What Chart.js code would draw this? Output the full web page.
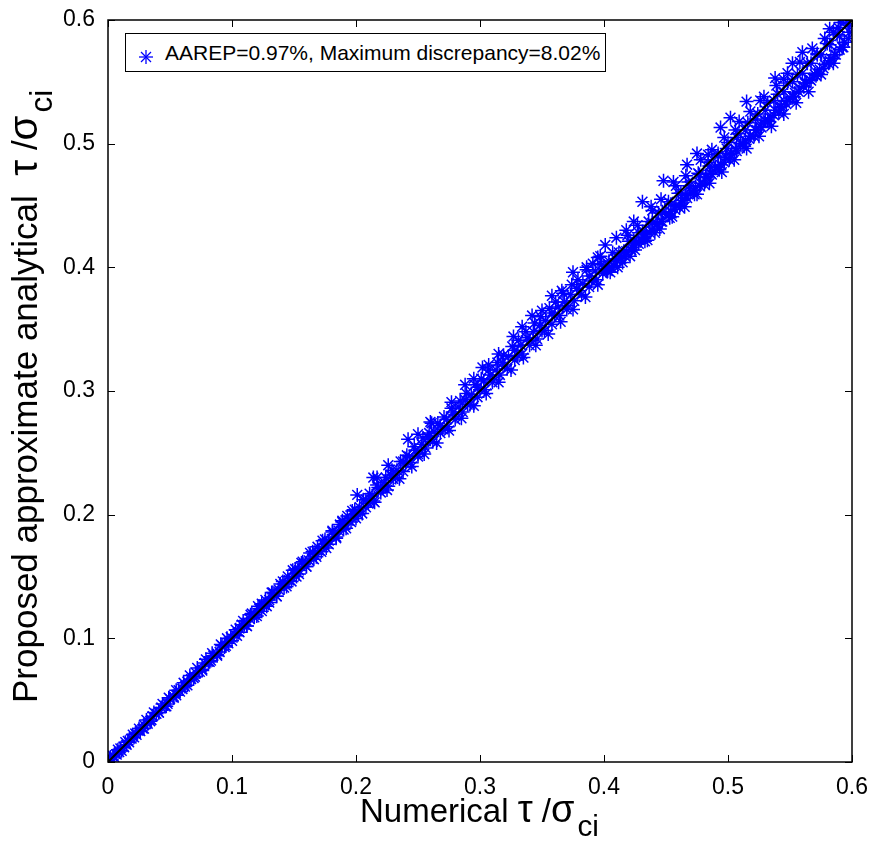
<!DOCTYPE html>
<html lang="en">
<head>
  <meta charset="UTF-8" />
  <title>Numerical vs proposed approximate analytical</title>
  <style>
    body { margin: 0; background: #fff; }
    #wrap {
      position: relative;
      width: 875px;
      height: 851px;
      font-family: "Liberation Sans", Arial, sans-serif;
      color: #000;
    }
    #grafico { position: absolute; left: 0; top: 0; }
    .titulo {
      position: absolute;
      font-size: 33px;
      line-height: 33px;
      white-space: nowrap;
    }
    .titulo .gr { font-size: 1.15em; line-height: 0; }
    .titulo sub {
      font-size: 0.9em;
      vertical-align: -0.48em;
      line-height: 0;
      margin-left: 3px;
    }
    #tituloX { left: 360px; top: 794px; }
    #tituloY {
      left: 7px;
      top: 703px;
      font-size: 35px;
      line-height: 35px;
      transform-origin: 0 0;
      transform: rotate(-90deg);
    }
    #legenda {
      position: absolute;
      left: 125px;
      top: 33px;
      width: 479px;
      height: 37px;
      border: 1px solid #000;
      background: #fff;
    }
    #legenda svg { position: absolute; left: 12px; top: 15px; }
    #legenda span {
      position: absolute;
      left: 39px;
      top: 8px;
      font-size: 21px;
      line-height: 21px;
      white-space: nowrap;
    }
  </style>
</head>
<body>
  <div id="wrap">
    <canvas id="grafico" width="875" height="851"></canvas>
    <div id="legenda">
      <svg width="16" height="16" viewBox="-8 -8 16 16">
        <g stroke="#0000ff" stroke-width="1.3">
          <line x1="-7" y1="0" x2="7" y2="0" />
          <line x1="0" y1="-7" x2="0" y2="7" />
          <line x1="-5" y1="-5" x2="5" y2="5" />
          <line x1="-5" y1="5" x2="5" y2="-5" />
        </g>
      </svg>
      <span>AAREP=0.97%, Maximum discrepancy=8.02%</span>
    </div>
    <div class="titulo" id="tituloX">Numerical <span class="gr">τ</span> /<span class="gr">σ</span><sub>ci</sub></div>
    <div class="titulo" id="tituloY">Proposed approximate analytical&nbsp; <span class="gr">τ</span> /<span class="gr">σ</span><sub>ci</sub></div>
  </div>

  <script src="https://cdn.jsdelivr.net/npm/chart.js"></script>
  <script>
    // eixos
    const xTickLabels = ['0', '0.1', '0.2', '0.3', '0.4', '0.5', '0.6'];
    const yTickLabels = ['0', '0.1', '0.2', '0.3', '0.4', '0.5', '0.6'];

    // linha de igualdade y = x
    const lineX = [0, 0.6];
    const lineY = [0, 0.6];

    // faixa densa perto da origem
    const lowX = [0.001, 0.004, 0.007, 0.010, 0.013, 0.016, 0.019, 0.022, 0.026, 0.029, 0.032, 0.036, 0.039, 0.043, 0.046,
      0.050, 0.053, 0.057, 0.060, 0.064, 0.067, 0.071, 0.074, 0.078, 0.081, 0.085, 0.088, 0.092, 0.095, 0.099,
      0.003, 0.009, 0.015, 0.021, 0.028, 0.034, 0.041, 0.048, 0.055, 0.062, 0.069, 0.076, 0.083, 0.090, 0.097];
    const lowY = [0.002, 0.005, 0.006, 0.011, 0.012, 0.017, 0.019, 0.023, 0.025, 0.030, 0.031, 0.037, 0.039, 0.044, 0.045,
      0.051, 0.053, 0.058, 0.059, 0.065, 0.067, 0.072, 0.073, 0.080, 0.081, 0.086, 0.087, 0.094, 0.094, 0.101,
      0.002, 0.008, 0.014, 0.020, 0.027, 0.033, 0.040, 0.047, 0.054, 0.061, 0.068, 0.075, 0.082, 0.089, 0.096];

    // faixa 0.1 - 0.2
    const midX = [0.102, 0.106, 0.110, 0.114, 0.118, 0.122, 0.126, 0.130, 0.134, 0.138, 0.142, 0.146, 0.150, 0.154, 0.158,
      0.162, 0.166, 0.170, 0.174, 0.178, 0.182, 0.186, 0.190, 0.194, 0.198,
      0.104, 0.112, 0.120, 0.128, 0.136, 0.144, 0.152, 0.160, 0.168, 0.176, 0.184, 0.192, 0.200,
      0.108, 0.116, 0.124, 0.133, 0.141, 0.149, 0.157, 0.165, 0.173, 0.181, 0.189, 0.197];
    const midY = [0.103, 0.108, 0.111, 0.116, 0.119, 0.124, 0.127, 0.131, 0.136, 0.139, 0.144, 0.147, 0.152, 0.155, 0.160,
      0.163, 0.168, 0.171, 0.176, 0.179, 0.184, 0.187, 0.192, 0.195, 0.200,
      0.102, 0.110, 0.118, 0.126, 0.134, 0.142, 0.150, 0.158, 0.166, 0.173, 0.181, 0.189, 0.197,
      0.111, 0.120, 0.128, 0.137, 0.146, 0.155, 0.162, 0.170, 0.179, 0.186, 0.195, 0.203];

    // faixa 0.2 - 0.4
    const upX = [0.203, 0.208, 0.213, 0.218, 0.223, 0.228, 0.233, 0.238, 0.243, 0.248, 0.253, 0.258, 0.263, 0.268, 0.273,
      0.278, 0.283, 0.288, 0.293, 0.298, 0.303, 0.308, 0.313, 0.318, 0.323, 0.328, 0.333, 0.338, 0.343, 0.348,
      0.353, 0.358, 0.363, 0.368, 0.373, 0.378, 0.383, 0.388, 0.393, 0.398,
      0.205, 0.215, 0.225, 0.235, 0.245, 0.255, 0.265, 0.275, 0.285, 0.295, 0.305, 0.315, 0.325, 0.335, 0.345,
      0.355, 0.365, 0.375, 0.385, 0.395,
      0.210, 0.220, 0.230, 0.240, 0.250, 0.260, 0.270, 0.280, 0.290, 0.300, 0.310, 0.320, 0.330, 0.340, 0.350,
      0.360, 0.370, 0.380, 0.390, 0.400];
    const upY = [0.206, 0.212, 0.215, 0.222, 0.226, 0.232, 0.236, 0.243, 0.247, 0.252, 0.257, 0.263, 0.267, 0.272, 0.277,
      0.283, 0.287, 0.293, 0.297, 0.303, 0.308, 0.313, 0.317, 0.323, 0.328, 0.333, 0.337, 0.343, 0.348, 0.353,
      0.357, 0.363, 0.368, 0.372, 0.378, 0.383, 0.387, 0.393, 0.397, 0.402,
      0.201, 0.210, 0.220, 0.229, 0.239, 0.249, 0.258, 0.268, 0.278, 0.288, 0.298, 0.307, 0.317, 0.327, 0.337,
      0.346, 0.356, 0.366, 0.376, 0.386,
      0.209, 0.221, 0.229, 0.241, 0.249, 0.261, 0.269, 0.281, 0.289, 0.301, 0.309, 0.321, 0.329, 0.341, 0.349,
      0.361, 0.369, 0.381, 0.389, 0.401];

    // faixa 0.4 - 0.6
    const topX = [0.402, 0.406, 0.410, 0.414, 0.418, 0.422, 0.426, 0.430, 0.434, 0.438, 0.442, 0.446, 0.450, 0.454, 0.458,
      0.462, 0.466, 0.470, 0.474, 0.478, 0.482, 0.486, 0.490, 0.494, 0.498, 0.502, 0.506, 0.510, 0.514, 0.518,
      0.522, 0.526, 0.530, 0.534, 0.538, 0.542, 0.546, 0.550, 0.554, 0.558, 0.562, 0.566, 0.570, 0.574, 0.578,
      0.582, 0.586, 0.590, 0.594, 0.598,
      0.405, 0.415, 0.425, 0.435, 0.445, 0.455, 0.465, 0.475, 0.485, 0.495, 0.505, 0.515, 0.525, 0.535, 0.545,
      0.555, 0.565, 0.575, 0.585,
      0.404, 0.412, 0.420, 0.428, 0.436, 0.444, 0.452, 0.460, 0.468, 0.476, 0.484, 0.492, 0.500, 0.508, 0.516,
      0.524, 0.532, 0.540, 0.548, 0.556, 0.564, 0.572, 0.580, 0.588, 0.596];
    const topY = [0.398, 0.400, 0.406, 0.407, 0.413, 0.414, 0.420, 0.423, 0.427, 0.430, 0.435, 0.437, 0.443, 0.445, 0.450,
      0.452, 0.458, 0.461, 0.465, 0.468, 0.473, 0.476, 0.481, 0.483, 0.489, 0.491, 0.496, 0.500, 0.503, 0.506,
      0.511, 0.514, 0.519, 0.521, 0.527, 0.529, 0.534, 0.537, 0.541, 0.545, 0.549, 0.552, 0.556, 0.560, 0.564,
      0.567, 0.572, 0.576, 0.582, 0.590,
      0.396, 0.404, 0.414, 0.422, 0.431, 0.441, 0.449, 0.459, 0.468, 0.477, 0.487, 0.496, 0.506, 0.514, 0.524,
      0.533, 0.542, 0.556, 0.565,
      0.405, 0.412, 0.421, 0.428, 0.437, 0.444, 0.453, 0.460, 0.469, 0.476, 0.485, 0.492, 0.501, 0.508, 0.517,
      0.524, 0.533, 0.540, 0.549, 0.556, 0.565, 0.572, 0.581, 0.588, 0.596];

    // reforco da faixa: ligeiramente acima da linha (0 - 0.4)
    const bandAX = [0.002, 0.008, 0.014, 0.020, 0.025, 0.031, 0.037, 0.044, 0.049, 0.055, 0.061, 0.066, 0.072, 0.079, 0.084,
      0.091, 0.096, 0.103, 0.109, 0.115, 0.121, 0.127, 0.132, 0.139, 0.145, 0.151, 0.156, 0.163, 0.169, 0.175,
      0.181, 0.187, 0.193, 0.199, 0.206, 0.211, 0.217, 0.224, 0.229, 0.236, 0.241, 0.247, 0.254, 0.259, 0.266,
      0.271, 0.277, 0.284, 0.289, 0.296, 0.301, 0.307, 0.314, 0.319, 0.326, 0.331, 0.337, 0.344, 0.349, 0.356,
      0.361, 0.367, 0.374, 0.379, 0.386, 0.391, 0.397];
    const bandAY = [0.004, 0.010, 0.016, 0.022, 0.027, 0.034, 0.040, 0.047, 0.052, 0.058, 0.064, 0.070, 0.076, 0.083, 0.088,
      0.095, 0.100, 0.107, 0.114, 0.119, 0.126, 0.131, 0.137, 0.144, 0.150, 0.156, 0.161, 0.169, 0.174, 0.180,
      0.187, 0.192, 0.199, 0.204, 0.212, 0.217, 0.224, 0.230, 0.236, 0.243, 0.248, 0.255, 0.262, 0.266, 0.274,
      0.279, 0.286, 0.292, 0.298, 0.305, 0.310, 0.317, 0.323, 0.329, 0.336, 0.341, 0.348, 0.355, 0.360, 0.367,
      0.372, 0.379, 0.386, 0.390, 0.398, 0.403, 0.409];

    // reforco da faixa: ligeiramente abaixo da linha (0 - 0.4)
    const bandBX = [0.005, 0.011, 0.017, 0.023, 0.029, 0.035, 0.041, 0.047, 0.053, 0.058, 0.064, 0.070, 0.076, 0.082, 0.088,
      0.094, 0.100, 0.106, 0.112, 0.118, 0.124, 0.130, 0.136, 0.142, 0.148, 0.154, 0.160, 0.166, 0.172, 0.178,
      0.184, 0.190, 0.196, 0.202, 0.208, 0.214, 0.220, 0.226, 0.232, 0.238, 0.244, 0.250, 0.256, 0.262, 0.268,
      0.274, 0.280, 0.286, 0.292, 0.298, 0.304, 0.310, 0.316, 0.322, 0.328, 0.334, 0.340, 0.346, 0.352, 0.358,
      0.364, 0.370, 0.376, 0.382, 0.388, 0.394, 0.399];
    const bandBY = [0.004, 0.009, 0.016, 0.022, 0.027, 0.034, 0.040, 0.045, 0.052, 0.057, 0.062, 0.069, 0.074, 0.081, 0.086,
      0.093, 0.098, 0.105, 0.110, 0.117, 0.122, 0.129, 0.134, 0.141, 0.146, 0.152, 0.158, 0.164, 0.170, 0.176,
      0.182, 0.188, 0.194, 0.200, 0.206, 0.211, 0.218, 0.223, 0.230, 0.235, 0.242, 0.247, 0.254, 0.259, 0.266,
      0.271, 0.277, 0.283, 0.289, 0.295, 0.301, 0.307, 0.313, 0.318, 0.325, 0.330, 0.337, 0.342, 0.349, 0.354,
      0.361, 0.366, 0.373, 0.378, 0.384, 0.390, 0.395];

    // reforco da faixa superior (0.4 - 0.6), abaixo e acima da linha
    const bandCX = [0.403, 0.408, 0.413, 0.417, 0.423, 0.428, 0.432, 0.437, 0.443, 0.447, 0.452, 0.457, 0.463, 0.467, 0.472,
      0.477, 0.483, 0.487, 0.492, 0.497, 0.503, 0.507, 0.512, 0.517, 0.523, 0.527, 0.532, 0.537, 0.543, 0.547,
      0.552, 0.557, 0.563, 0.567, 0.572, 0.577, 0.583, 0.587, 0.592, 0.597];
    const bandCY = [0.397, 0.401, 0.407, 0.409, 0.416, 0.419, 0.424, 0.428, 0.435, 0.437, 0.443, 0.447, 0.454, 0.456, 0.462,
      0.466, 0.473, 0.475, 0.481, 0.485, 0.492, 0.494, 0.500, 0.504, 0.511, 0.513, 0.519, 0.523, 0.530, 0.532,
      0.538, 0.542, 0.549, 0.551, 0.557, 0.561, 0.569, 0.572, 0.578, 0.585];
    const bandDX = [0.407, 0.419, 0.427, 0.439, 0.446, 0.458, 0.466, 0.478, 0.487, 0.497, 0.509, 0.518, 0.529, 0.539, 0.548,
      0.558, 0.568, 0.578, 0.589];
    const bandDY = [0.412, 0.426, 0.434, 0.446, 0.455, 0.466, 0.474, 0.487, 0.495, 0.505, 0.518, 0.526, 0.538, 0.547, 0.557,
      0.566, 0.577, 0.585, 0.594];
    const bandEX = [0.401, 0.409, 0.416, 0.424, 0.431, 0.439, 0.447, 0.454, 0.462, 0.469, 0.477, 0.485, 0.492, 0.499, 0.507,
      0.514, 0.522, 0.530, 0.537, 0.545, 0.552, 0.560, 0.567, 0.575, 0.582, 0.590];
    const bandEY = [0.399, 0.407, 0.413, 0.422, 0.429, 0.436, 0.445, 0.451, 0.460, 0.466, 0.475, 0.482, 0.490, 0.496, 0.505,
      0.511, 0.520, 0.527, 0.535, 0.542, 0.550, 0.557, 0.565, 0.572, 0.580, 0.587];
    const bandFX = [0.411, 0.421, 0.433, 0.441, 0.453, 0.461, 0.473, 0.481, 0.493, 0.501, 0.513, 0.521, 0.533, 0.541, 0.553,
      0.561, 0.571, 0.581, 0.593];
    const bandFY = [0.400, 0.409, 0.421, 0.428, 0.440, 0.448, 0.459, 0.467, 0.479, 0.487, 0.498, 0.506, 0.518, 0.525, 0.538,
      0.546, 0.555, 0.565, 0.578];

    // pontos isolados acima da linha
    const outX = [0.189, 0.201, 0.214, 0.217, 0.226, 0.242, 0.250, 0.261, 0.260, 0.277, 0.288, 0.295, 0.302, 0.307, 0.315,
      0.327, 0.334, 0.342, 0.350, 0.358, 0.366, 0.375, 0.386, 0.395,
      0.401, 0.410, 0.418, 0.424, 0.431, 0.438, 0.448, 0.456, 0.467, 0.475, 0.484, 0.494, 0.502, 0.506, 0.515,
      0.526, 0.538, 0.545, 0.552, 0.560, 0.572, 0.582, 0.585, 0.591, 0.597];
    const outY = [0.194, 0.216, 0.230, 0.230, 0.240, 0.261, 0.265, 0.274, 0.275, 0.291, 0.305, 0.310, 0.319, 0.321, 0.330,
      0.344, 0.352, 0.361, 0.365, 0.377, 0.381, 0.396, 0.400, 0.408,
      0.418, 0.424, 0.430, 0.437, 0.453, 0.449, 0.470, 0.469, 0.483, 0.492, 0.491, 0.513, 0.521, 0.511, 0.534,
      0.535, 0.553, 0.552, 0.565, 0.574, 0.573, 0.593, 0.590, 0.598, 0.597];

    function pares(xs, ys) {
      return xs.map((x, i) => ({ x: x, y: ys[i] }));
    }

    const pontos = [].concat(
      pares(lowX, lowY), pares(midX, midY), pares(upX, upY), pares(topX, topY),
      pares(bandAX, bandAY), pares(bandBX, bandBY), pares(bandCX, bandCY), pares(bandDX, bandDY),
      pares(bandEX, bandEY), pares(bandFX, bandFY),
      pares(outX, outY)
    );

    // ticks para dentro nos quatro lados + moldura
    const molduraPlugin = {
      id: 'moldura',
      afterDraw(chart) {
        const ctx = chart.ctx;
        const a = chart.chartArea;
        const sx = chart.scales.x, sy = chart.scales.y;
        const len = 7;
        ctx.save();
        ctx.strokeStyle = '#000';
        ctx.lineWidth = 1;
        ctx.beginPath();
        sx.ticks.forEach(t => {
          const px = Math.round(sx.getPixelForValue(t.value)) + 0.5;
          ctx.moveTo(px, a.bottom); ctx.lineTo(px, a.bottom - len);
          ctx.moveTo(px, a.top); ctx.lineTo(px, a.top + len);
        });
        sy.ticks.forEach(t => {
          const py = Math.round(sy.getPixelForValue(t.value)) + 0.5;
          ctx.moveTo(a.left, py); ctx.lineTo(a.left + len, py);
          ctx.moveTo(a.right, py); ctx.lineTo(a.right - len, py);
        });
        ctx.stroke();
        ctx.lineWidth = 1.5;
        ctx.strokeRect(a.left, a.top, a.right - a.left, a.bottom - a.top);
        ctx.restore();
      }
    };

    const fonteTicks = { family: '"Liberation Sans", Arial, sans-serif', size: 23 };

    new Chart(document.getElementById('grafico'), {
      type: 'scatter',
      data: {
        datasets: [
          {
            type: 'line',
            data: pares(lineX, lineY),
            borderColor: '#000',
            borderWidth: 2,
            pointRadius: 0,
            fill: false,
            order: 0
          },
          {
            data: pontos,
            pointStyle: 'star',
            pointRadius: 7,
            borderColor: '#0000ff',
            backgroundColor: '#0000ff',
            pointBorderWidth: 1.5,
            order: 1
          }
        ]
      },
      options: {
        responsive: false,
        animation: false,
        layout: { padding: { left: 0, top: 20, right: 23, bottom: 0 } },
        plugins: {
          legend: { display: false },
          tooltip: { enabled: false }
        },
        scales: {
          x: {
            type: 'linear',
            min: 0,
            max: 0.6,
            grid: { display: false },
            border: { display: false },
            afterFit: s => { s.height = 89; },
            ticks: {
              stepSize: 0.1,
              padding: 4,
              color: '#000',
              font: fonteTicks,
              maxRotation: 0,
              callback: (v, i) => xTickLabels[i]
            }
          },
          y: {
            type: 'linear',
            min: 0,
            max: 0.6,
            grid: { display: false },
            border: { display: false },
            afterFit: s => { s.width = 108; },
            ticks: {
              stepSize: 0.1,
              padding: 5,
              color: '#000',
              font: fonteTicks,
              callback: (v, i) => yTickLabels[i]
            }
          }
        }
      },
      plugins: [molduraPlugin]
    });
  </script>
</body>
</html>
